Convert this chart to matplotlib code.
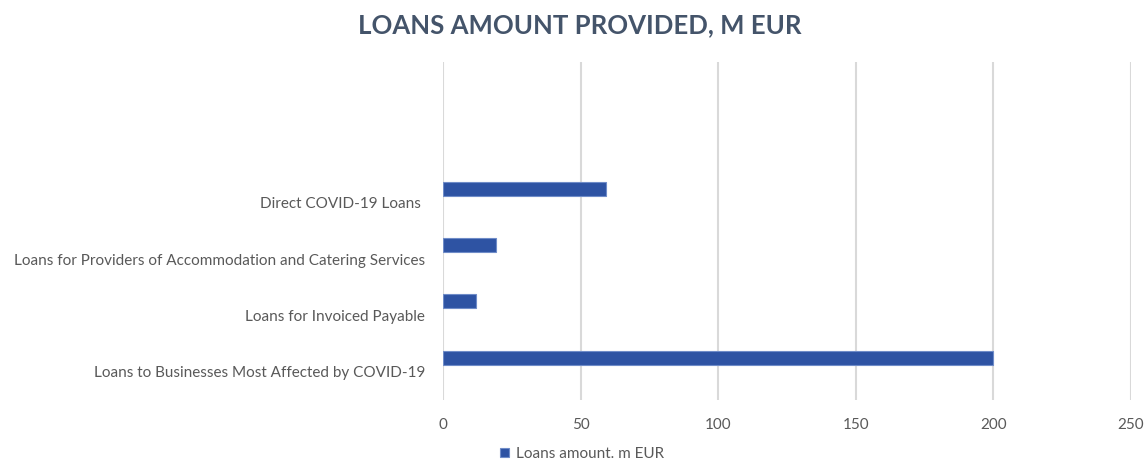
import numpy as np
import matplotlib
matplotlib.use("Agg")
import matplotlib.pyplot as plt

# categories bottom -> top (top two slots are empty in the source chart)
categories = [
    "Loans to Businesses Most Affected by COVID-19",
    "Loans for Invoiced Payable",
    "Loans for Providers of Accommodation and Catering Services",
    "Direct COVID-19 Loans ",
    "",
    "",
]
amounts = [200, 12, 19.3, 59.3, np.nan, np.nan]
x_ticks = [0, 50, 100, 150, 200, 250]
series_name = "Loans amount. m EUR"

plt.rcParams['font.family'] = ['Lato', 'DejaVu Sans']

fig = plt.figure(figsize=(11.47, 4.61), dpi=100)
ax = fig.add_axes([443 / 1147, 1 - 400 / 461, (1131 - 443) / 1147, (400 - 62) / 461])

pos = np.arange(len(categories))
ax.barh(pos + 0.25, amounts, height=0.25, color='#2e53a3',
        edgecolor='#6f8cc8', linewidth=0.8, label=series_name, zorder=3)

ax.set_xlim(0, 250)
ax.set_ylim(-0.5, len(categories) - 0.5)
ax.set_xticks(x_ticks)
ax.set_yticks(pos)
ax.set_yticklabels(categories)
ax.tick_params(axis='both', length=0, labelsize=11, colors='#595959')
ax.tick_params(axis='x', pad=13)
ax.tick_params(axis='y', pad=13)
ax.xaxis.grid(True, color='#d9d9d9', linewidth=1.5, zorder=0)
for s in ax.spines.values():
    s.set_visible(False)

fig.suptitle("LOANS AMOUNT PROVIDED, M EUR", x=580 / 1147, y=1 - 25 / 461, va='center',
             fontsize=18.5, fontweight='bold', color='#44546a')

fig.legend(loc='center', bbox_to_anchor=(582 / 1147, 1 - 454 / 461), frameon=False,
           fontsize=11, labelcolor='#595959', handlelength=0.6, handleheight=0.6,
           handletextpad=0.4)

fig.savefig("out.png", dpi=100)
